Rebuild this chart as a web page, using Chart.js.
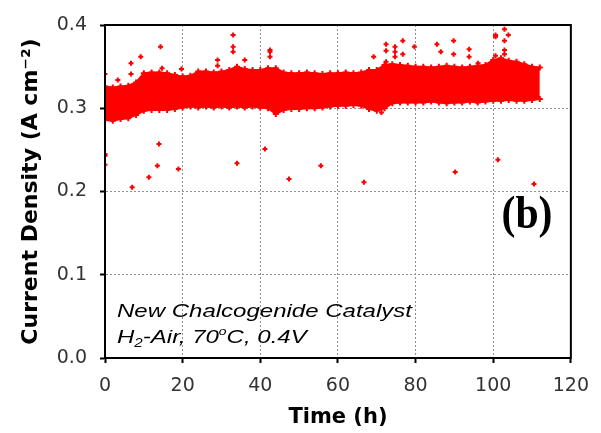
<!DOCTYPE html>
<html lang="en">
<head>
<meta charset="UTF-8" />
<title>Current Density vs Time</title>
<script src="https://cdn.jsdelivr.net/npm/chart.js"></script>
<style>
    body { margin: 0; background: #fff; }
    #wrap { width: 601px; height: 433px; }
</style>
</head>
<body>
<div id="wrap"><canvas id="cdChart" width="601" height="433"></canvas></div>
<script>
    // edges of the dense band of readings, read every 2 h
    const bandTime = [0, 2, 4, 6, 8, 10, 12, 14, 16, 18, 20, 22, 24, 26, 28, 30, 32, 34, 36, 38,
        40, 42, 44, 46, 48, 50, 52, 54, 56, 58, 60, 62, 64, 66, 68, 70, 72, 74, 76, 78,
        80, 82, 84, 86, 88, 90, 92, 94, 96, 98, 100, 102, 104, 106, 108, 110, 112];
    const bandUpper = [0.326, 0.325, 0.326, 0.327, 0.331, 0.342, 0.343, 0.343, 0.342, 0.340,
        0.338, 0.339, 0.344, 0.344, 0.343, 0.344, 0.346, 0.350, 0.347, 0.346,
        0.346, 0.348, 0.348, 0.343, 0.342, 0.342, 0.343, 0.342, 0.341, 0.342,
        0.342, 0.343, 0.342, 0.343, 0.346, 0.346, 0.352, 0.353, 0.352, 0.351,
        0.350, 0.350, 0.349, 0.350, 0.351, 0.350, 0.349, 0.350, 0.351, 0.352,
        0.358, 0.360, 0.357, 0.356, 0.353, 0.350, 0.349];
    const bandLower = [0.286, 0.285, 0.287, 0.288, 0.292, 0.297, 0.298, 0.298, 0.298, 0.299,
        0.301, 0.302, 0.301, 0.302, 0.301, 0.302, 0.301, 0.302, 0.301, 0.302,
        0.301, 0.300, 0.293, 0.298, 0.299, 0.299, 0.300, 0.300, 0.301, 0.302,
        0.303, 0.303, 0.304, 0.303, 0.299, 0.297, 0.300, 0.306, 0.307, 0.307,
        0.307, 0.307, 0.308, 0.307, 0.306, 0.307, 0.307, 0.308, 0.307, 0.308,
        0.309, 0.309, 0.310, 0.309, 0.309, 0.310, 0.311];

    // single readings away from the band
    const strayTime = [0, 3.3, 6.7, 6.7, 9.2, 14.3, 14.7, 19.7, 29, 29, 33, 33, 33, 36,
        42.5, 42.5, 42.5, 69.2, 72.4, 72.4, 72.4, 74.7, 74.7, 74.7, 76.7, 76.7, 79.7,
        85.5, 86.5, 89.8, 89.8, 93.8, 93.8, 96.1, 100.6, 100.6, 100.6, 102.9, 102.9,
        102.9, 102.9, 103.9, 71.2,
        0, 0, 0, 7, 11.3, 13.5, 13.9, 18.9, 34, 41.2, 47.4, 55.6, 66.7, 90.2, 101.2, 110.5];
    const strayDensity = [0.341, 0.334, 0.341, 0.354, 0.362, 0.374, 0.348, 0.347, 0.358, 0.351,
        0.388, 0.374, 0.368, 0.358, 0.370, 0.368, 0.362, 0.362, 0.377, 0.369, 0.356,
        0.374, 0.368, 0.362, 0.381, 0.365, 0.374, 0.377, 0.368, 0.381, 0.365, 0.371,
        0.362, 0.354, 0.388, 0.386, 0.363, 0.395, 0.381, 0.370, 0.365, 0.388, 0.295,
        0.245, 0.243, 0.232, 0.205, 0.217, 0.231, 0.257, 0.227, 0.234, 0.251, 0.215,
        0.231, 0.211, 0.2235, 0.238, 0.209];

    const xTicks = [0, 20, 40, 60, 80, 100, 120];
    const yTicks = [0.0, 0.1, 0.2, 0.3, 0.4];

    const RED = '#ff0000';
    Chart.defaults.font.family = 'DejaVu Sans';

    const pts = (xs, ys) => xs.map((x, i) => ({ x: x, y: ys[i] }));

    // draw text squeezed or stretched to a given width
    function fitText(ctx, text, x, y, width, align) {
        const w = ctx.measureText(text).width;
        const s = width / w;
        ctx.save();
        ctx.translate(x, y);
        ctx.scale(s, 1);
        ctx.textAlign = align || 'left';
        ctx.fillText(text, 0, 0);
        ctx.restore();
        return s;
    }

    const notes = {
        id: 'notes',
        afterDraw(chart) {
            const { ctx, chartArea: a } = chart;
            ctx.save();
            // frame round the plot
            ctx.strokeStyle = '#000';
            ctx.lineWidth = 2;
            ctx.strokeRect(a.left, a.top, a.right - a.left, a.bottom - a.top);

            ctx.fillStyle = '#000';
            ctx.textBaseline = 'alphabetic';
            ctx.font = 'italic 19px "Liberation Sans"';
            const s = fitText(ctx, 'New Chalcogenide Catalyst', 117, 317, 295);

            // second line with subscript and degree sign
            let x = 117;
            const part = (txt, font, dy) => {
                ctx.font = font;
                ctx.save();
                ctx.translate(x, 343 + dy);
                ctx.scale(s, 1);
                ctx.fillText(txt, 0, 0);
                ctx.restore();
                x += ctx.measureText(txt).width * s;
            };
            part('H', 'italic 19px "Liberation Sans"', 0);
            part('2', 'italic 12px "Liberation Sans"', 4);
            part('-Air, 70', 'italic 19px "Liberation Sans"', 0);
            part('o', 'italic 11px "Liberation Sans"', -8);
            part('C, 0.4V', 'italic 19px "Liberation Sans"', 0);

            ctx.font = 'bold 46px "Liberation Serif"';
            fitText(ctx, '(b)', 527, 228, 51, 'center');
            ctx.restore();
        }
    };

    new Chart(document.getElementById('cdChart'), {
        type: 'scatter',
        data: {
            datasets: [
                {
                    data: pts(bandTime, bandLower),
                    showLine: true,
                    borderColor: RED,
                    borderWidth: 2,
                    backgroundColor: RED,
                    pointStyle: 'cross',
                    pointRadius: 3,
                    pointBorderWidth: 2,
                    fill: false
                },
                {
                    data: pts(bandTime, bandUpper),
                    showLine: true,
                    borderColor: RED,
                    borderWidth: 2,
                    backgroundColor: RED,
                    pointStyle: 'cross',
                    pointRadius: 3,
                    pointBorderWidth: 2,
                    fill: '-1'
                },
                {
                    data: pts(strayTime, strayDensity),
                    borderColor: RED,
                    backgroundColor: RED,
                    pointStyle: 'cross',
                    pointRadius: 2.5,
                    pointBorderWidth: 2
                }
            ]
        },
        options: {
            responsive: false,
            animation: false,
            layout: { padding: { top: 25, right: 20, bottom: 0, left: 0 } },
            plugins: {
                legend: { display: false },
                tooltip: { enabled: false }
            },
            scales: {
                x: {
                    type: 'linear',
                    min: 0,
                    max: 120,
                    afterBuildTicks: s => { s.ticks = xTicks.map(v => ({ value: v })); },
                    afterFit: s => { s.height = 75; },
                    grid: {
                        display: true,
                        drawOnChartArea: true,
                        color: '#909090',
                        lineWidth: 1,
                        tickColor: '#000',
                        tickLength: 5,
                        tickWidth: 2
                    },
                    border: { display: true, color: '#000', width: 2, dash: [2, 2] },
                    ticks: {
                        color: '#333',
                        font: { size: 19 },
                        padding: 12,
                        maxRotation: 0
                    },
                    title: {
                        display: true,
                        text: 'Time (h)',
                        color: '#000',
                        font: { size: 21, weight: 'bold' },
                        padding: { top: 0, bottom: 3 }
                    }
                },
                y: {
                    type: 'linear',
                    min: 0,
                    max: 0.4,
                    afterBuildTicks: s => { s.ticks = yTicks.map(v => ({ value: v })); },
                    afterFit: s => { s.width = 105; },
                    grid: {
                        display: true,
                        drawOnChartArea: true,
                        color: '#909090',
                        lineWidth: 1,
                        tickColor: '#000',
                        tickLength: 5,
                        tickWidth: 2
                    },
                    border: { display: true, color: '#000', width: 2, dash: [2, 2] },
                    ticks: {
                        color: '#333',
                        font: { size: 19 },
                        padding: 13,
                        callback: v => v.toFixed(1)
                    },
                    title: {
                        display: true,
                        text: 'Current Density (A cm\u207B\u00B2)',
                        color: '#000',
                        font: { size: 22, weight: 'bold' },
                        padding: { top: 18, bottom: 0 }
                    }
                }
            }
        },
        plugins: [notes]
    });
</script>
</body>
</html>
